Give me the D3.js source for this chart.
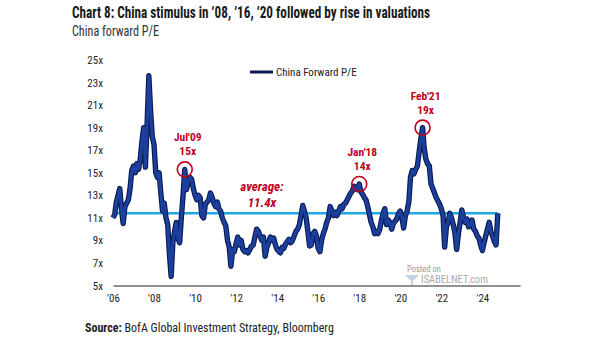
<!doctype html>
<html>
<head>
<meta charset="utf-8"/>
<title>China forward P/E</title>
<script src="https://cdn.jsdelivr.net/npm/d3@7"></script>
<style>
  body { margin: 0; background: #fff; }
  text { font-family: "Liberation Sans Narrow", "Roboto Condensed", "Arial Narrow", "Liberation Sans", sans-serif; }
</style>
</head>
<body>
<script>
// monthly forward P/E, starting Jan 2006
var startMonth = "2006-01";
var peValues = [
  11.0, 11.3, 12.4, 13.0, 13.6, 11.8, 10.5, 12.0, 12.3, 12.6, 13.6, 15.2,   // 2006
  15.6, 15.0, 15.8, 15.3, 16.2, 17.8, 19.0, 15.5, 19.5, 23.6, 20.5, 18.2,   // 2007
  17.5, 15.0, 14.6, 15.0, 13.2, 11.6, 12.3, 11.0, 10.4, 7.8, 5.8, 8.8,      // 2008
  9.8, 10.6, 9.2, 8.8, 11.0, 13.0, 15.3, 13.5, 14.2, 14.6, 14.4, 13.6,      // 2009
  13.0, 12.6, 13.0, 12.8, 11.2, 11.0, 12.2, 12.4, 12.6, 13.2, 12.8, 12.3,   // 2010
  12.0, 12.4, 11.8, 11.6, 11.0, 10.6, 10.3, 9.0, 8.4, 6.7, 8.2, 8.0,        // 2011
  8.7, 9.3, 8.6, 9.0, 8.2, 8.0, 8.1, 7.9, 8.2, 8.5, 8.6, 9.3,               // 2012
  10.0, 9.8, 9.4, 9.0, 9.3, 7.6, 8.4, 8.8, 9.3, 9.0, 9.2, 8.6,              // 2013
  8.2, 8.0, 7.9, 8.4, 8.3, 8.7, 8.9, 9.1, 8.8, 9.0, 9.4, 9.8,               // 2014
  10.0, 10.4, 11.2, 12.1, 11.6, 11.0, 9.8, 8.5, 8.6, 9.6, 9.8, 9.4,         // 2015
  8.3, 8.0, 9.0, 9.6, 10.0, 10.6, 11.0, 12.0, 11.6, 11.2, 11.5, 11.2,       // 2016
  11.6, 12.0, 11.8, 12.2, 12.3, 12.6, 12.9, 13.2, 13.4, 13.8, 13.6, 13.5,   // 2017
  14.0, 13.3, 13.1, 12.8, 12.6, 12.0, 11.3, 10.6, 10.2, 9.6, 9.8, 9.6,      // 2018
  10.0, 10.8, 11.4, 11.8, 10.4, 10.8, 10.6, 10.0, 10.5, 10.7, 10.9, 11.4,   // 2019
  11.6, 11.0, 10.1, 11.2, 11.6, 12.4, 14.6, 15.2, 14.9, 15.3, 15.6, 16.8,   // 2020
  18.0, 19.0, 17.2, 16.2, 15.8, 15.6, 14.0, 13.6, 13.2, 12.8, 12.5, 12.2,   // 2021
  11.8, 11.2, 8.4, 10.2, 10.6, 11.4, 11.0, 10.4, 9.6, 8.2, 9.6, 10.6,       // 2022
  11.7, 11.0, 10.6, 10.9, 10.2, 10.4, 10.8, 10.0, 9.8, 9.4, 9.2, 8.6,       // 2023
  8.1, 8.8, 9.4, 10.0, 10.6, 9.8, 9.4, 8.9, 8.6, 11.4                      // 2024
];
var averagePE = 11.4;
var yTicks = [5, 7, 9, 11, 13, 15, 17, 19, 21, 23, 25];
var xTickYears = [2006, 2008, 2010, 2012, 2014, 2016, 2018, 2020, 2022, 2024];
var calloutDates = ["2009-07", "2018-01", "2021-02"];
var calloutNames = ["Jul'09", "Jan'18", "Feb'21"];
var calloutLevels = ["15x", "14x", "19x"];

var W = 605, H = 341;
var navy = "#1b3f9c", navyEdge = "#0b1a52", red = "#c0001e", sky = "#1ea7e1";

var svg = d3.select("body").append("svg")
  .attr("width", W).attr("height", H);

var parseMonth = d3.timeParse("%Y-%m");
var t0 = parseMonth(startMonth);
var series = peValues.map(function(v, i) {
  return { date: d3.timeMonth.offset(t0, i), value: v };
});

var x = d3.scaleTime()
  .domain([new Date(2006, 0, 1), new Date(2025, 10, 1)])
  .range([113, 520]);
var y = d3.scaleLinear().domain([5, 25]).range([285.5, 60]);

// title block
svg.append("text").attr("x", 72).attr("y", 18)
  .attr("font-size", 16).attr("font-weight", "bold").attr("fill", "#1a1a1a")
  .attr("textLength", 358).attr("lengthAdjust", "spacingAndGlyphs")
  .text("Chart 8: China stimulus in \u201908, \u201916, \u201920 followed by rise in valuations");
svg.append("text").attr("x", 72).attr("y", 36)
  .attr("font-size", 14).attr("fill", "#333")
  .attr("textLength", 87).attr("lengthAdjust", "spacingAndGlyphs")
  .text("China forward P/E");

// y tick labels (no axis line)
svg.append("g").selectAll("text").data(yTicks).enter().append("text")
  .attr("x", 103).attr("y", function(d) { return y(d) + 4; })
  .attr("text-anchor", "end").attr("font-size", 11).attr("fill", "#222")
  .text(function(d) { return d + "x"; });

// x axis
var xAxis = d3.axisBottom(x)
  .tickValues(xTickYears.map(function(yr) { return new Date(yr, 0, 1); }))
  .tickSize(0).tickPadding(9)
  .tickFormat(function(d) { return "'" + d3.timeFormat("%y")(d); });
var gx = svg.append("g").attr("transform", "translate(0," + y(5) + ")").call(xAxis);
gx.select(".domain").attr("stroke", "#222").attr("stroke-width", 1.2);
gx.selectAll("text").attr("font-size", 11).attr("fill", "#222")
  .attr("font-family", "\"Liberation Sans Narrow\", \"Liberation Sans\", sans-serif");

// watermark
svg.append("text").attr("x", 407).attr("y", 272).attr("font-size", 8.5).attr("fill", "#9a9a9a").text("Posted on");
svg.append("text").attr("x", 421).attr("y", 283).attr("font-size", 10.5).attr("fill", "#9a9a9a").attr("opacity", 0.85).text("ISABELNET.com");
svg.append("path").attr("d", "M405,275 L419,275 L413,281 L413,285 L411,285 L411,281 Z")
  .attr("fill", "#b5c9d9").attr("opacity", 0.8);

// average line
svg.append("line")
  .attr("x1", x(series[0].date)).attr("x2", x(series[series.length - 1].date))
  .attr("y1", y(averagePE)).attr("y2", y(averagePE))
  .attr("stroke", sky).attr("stroke-width", 2.5);

// P/E line: dark edge under a navy core
var line = d3.line().x(function(d) { return x(d.date); }).y(function(d) { return y(d.value); });
svg.append("path").datum(series).attr("d", line)
  .attr("fill", "none").attr("stroke", navyEdge).attr("stroke-width", 5.4).attr("stroke-linejoin", "round");
svg.append("path").datum(series).attr("d", line)
  .attr("fill", "none").attr("stroke", navy).attr("stroke-width", 3.2).attr("stroke-linejoin", "round");

// average label
svg.append("text").attr("x", 262).attr("y", 191).attr("text-anchor", "middle")
  .attr("font-size", 13).attr("font-weight", "bold").attr("font-style", "italic").attr("fill", red)
  .text("average:");
svg.append("text").attr("x", 262).attr("y", 207).attr("text-anchor", "middle")
  .attr("font-size", 13).attr("font-weight", "bold").attr("font-style", "italic").attr("fill", red)
  .text(averagePE + "x");

// peak callouts
calloutDates.forEach(function(ds, i) {
  var dt = parseMonth(ds);
  var pt = series.find(function(d) { return +d.date === +dt; });
  var cx = x(pt.date), cy = y(pt.value);
  svg.append("circle").attr("cx", cx).attr("cy", cy).attr("r", 7.5)
    .attr("fill", "none").attr("stroke", red).attr("stroke-width", 1.6);
  svg.append("text").attr("x", cx + 3).attr("y", cy - 14).attr("text-anchor", "middle")
    .attr("font-size", 11.5).attr("font-weight", "bold").attr("fill", red).text(calloutLevels[i]);
  svg.append("text").attr("x", cx + 3).attr("y", cy - 28).attr("text-anchor", "middle")
    .attr("font-size", 11.5).attr("font-weight", "bold").attr("fill", red).text(calloutNames[i]);
});

// legend
svg.append("line").attr("x1", 250).attr("x2", 273).attr("y1", 72).attr("y2", 72)
  .attr("stroke", navyEdge).attr("stroke-width", 3);
svg.append("text").attr("x", 276).attr("y", 76).attr("font-size", 11).attr("fill", "#222")
  .text("China Forward P/E");

// source line
var src = svg.append("text").attr("x", 85).attr("y", 332).attr("font-size", 12).attr("fill", "#222");
src.append("tspan").attr("font-weight", "bold").text("Source:");
src.append("tspan").text(" BofA Global Investment Strategy, Bloomberg");
</script>
</body>
</html>
